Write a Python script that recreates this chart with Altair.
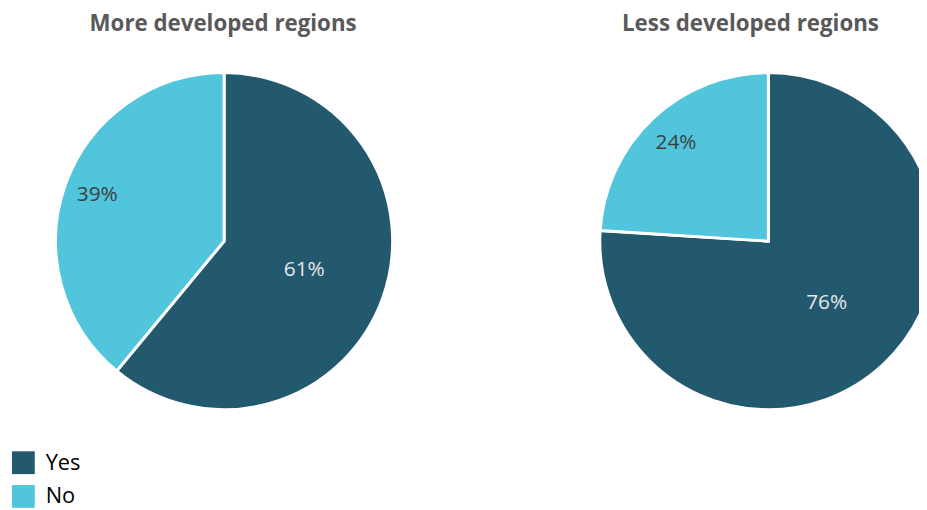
import altair as alt
import pandas as pd

regions = ["More developed regions", "Less developed regions"]
answers = ["Yes", "No"]
more_developed = [61, 39]
less_developed = [76, 24]

rows = []
for region, vals in zip(regions, [more_developed, less_developed]):
    for i, (a, v) in enumerate(zip(answers, vals)):
        rows.append({"region": region, "answer": a, "value": v, "order": i})
df = pd.DataFrame(rows)

DARK = "#22596f"
LIGHT = "#50c5dc"
FONT = "Open Sans"

base = alt.Chart(df).transform_stack(
    stack="value", groupby=["region"], as_=["v0", "v1"],
    sort=[alt.SortField("order", order="ascending")]
).transform_calculate(
    mid="(datum.v0 + datum.v1) / 2", label="datum.value + '%'"
)

xs = alt.X("region:N", scale=alt.Scale(type="point", domain=regions, range=[218, 767], padding=0), axis=None)
tscale = alt.Scale(domain=[0, 100])

arcs = base.mark_arc(outerRadius=170, stroke="white", strokeWidth=3).encode(
    x=xs,
    y=alt.value(233),
    theta=alt.Theta("v0:Q", stack=False, scale=tscale),
    theta2="v1:Q",
    color=alt.Color(
        "answer:N",
        scale=alt.Scale(domain=answers, range=[DARK, LIGHT]),
        legend=alt.Legend(
            orient="none", legendX=4, legendY=445, title=None,
            symbolType="square", symbolSize=529, symbolStrokeWidth=0,
            labelFontSize=22, labelFont=FONT, labelColor="#000000",
            labelOffset=11, rowPadding=11, padding=0,
        ),
    ),
)

yes_labels = base.transform_filter(alt.datum.answer == "Yes").mark_text(
    radius=86, fontSize=21, font=FONT, color="#e6e6e6"
).encode(
    x=xs, y=alt.value(233),
    theta=alt.Theta("mid:Q", stack=False, scale=tscale),
    text="label:N",
)

no_labels = base.transform_filter(alt.datum.answer == "No").mark_text(
    radius=136, fontSize=21, font=FONT, color="#404040"
).encode(
    x=xs, y=alt.value(233),
    theta=alt.Theta("mid:Q", stack=False, scale=tscale),
    text="label:N",
)

titles = alt.Chart(pd.DataFrame({"region": regions})).mark_text(
    fontSize=22.5, font=FONT, fontWeight="bold", color="#595959", baseline="middle"
).encode(
    x=alt.X("region:N", scale=alt.Scale(type="point", domain=regions, range=[217, 749], padding=0), axis=None),
    y=alt.value(14),
    text="region:N",
)

chart = alt.layer(arcs, yes_labels, no_labels, titles).resolve_scale(
    x="independent"
).properties(
    width=919, height=502, padding=0,
    autosize=alt.AutoSizeParams(type="none"),
).configure_view(stroke=None)

chart.save("out.html", embed_options={"renderer": "svg", "actions": False})
